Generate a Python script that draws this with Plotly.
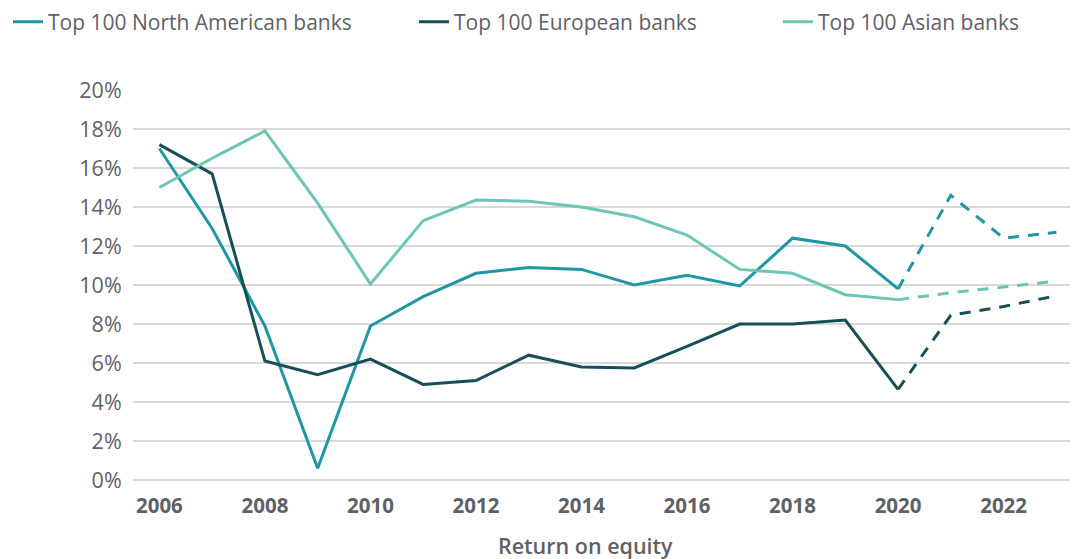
import plotly.graph_objects as go

years = list(range(2006, 2024))
north_america = [17.0, 12.9, 7.9, 0.6, 7.9, 9.4, 10.6, 10.9, 10.8, 10.0, 10.5, 9.95, 12.4, 12.0, 9.8, 14.6, 12.4, 12.7]
europe = [17.2, 15.7, 6.1, 5.4, 6.2, 4.9, 5.1, 6.4, 5.8, 5.75, 6.85, 8.0, 8.0, 8.2, 4.65, 8.45, 8.9, 9.45]
asia = [15.0, 16.5, 17.9, 14.2, 10.05, 13.3, 14.36, 14.3, 14.0, 13.5, 12.56, 10.8, 10.6, 9.5, 9.25, 9.6, 9.9, 10.2]
names = ["Top 100 North American banks", "Top 100 European banks", "Top 100 Asian banks"]
colors = ["#2196a3", "#174f57", "#6cc5b5"]
last_actual = 2020
tick_years = list(range(2006, 2024, 2))
x_title = "Return on equity"

W, H = 1070, 551
text_color = "#5f6166"

fig = go.Figure()
legends = ["legend", "legend2", "legend3"]
for i, (name, vals, col) in enumerate(zip(names, [north_america, europe, asia], colors)):
    idx = years.index(last_actual)
    fig.add_trace(go.Scatter(x=years[:idx + 1], y=vals[:idx + 1], mode="lines", name=name,
                             line=dict(color=col, width=3), legend=legends[i]))
    fig.add_trace(go.Scatter(x=years[idx:], y=vals[idx:], mode="lines", name=name, showlegend=False,
                             line=dict(color=col, width=3, dash="11px,9px"), legend=legends[i]))

legend_font = dict(family="Open Sans", size=21, color=text_color)
lx = [0.0, 406 / W, 770 / W]
for key, x in zip(legends, lx):
    fig.update_layout({key: dict(x=x, y=1 - 14 / H, xref="container", yref="container", xanchor="left",
                                 yanchor="middle", orientation="h", font=legend_font,
                                 bgcolor="rgba(0,0,0,0)", itemwidth=30, tracegroupgap=0)})

fig.add_annotation(text=x_title, xref="paper", yref="paper", x=(577 - 125) / 945, y=0,
                   xanchor="center", yanchor="middle", yshift=-65, showarrow=False,
                   font=dict(family="Open Sans", size=21.5, color=text_color, weight=600))

fig.update_layout(
    width=W, height=H,
    margin=dict(l=125, r=0, t=82, b=79, autoexpand=False),
    plot_bgcolor="white", paper_bgcolor="white",
    font=dict(family="Open Sans", color=text_color),
    xaxis=dict(range=[2005.5, 2023.41], tickvals=tick_years, ticktext=[str(y) for y in tick_years],
               showgrid=False, zeroline=False, showline=False,
               tickfont=dict(family="Open Sans", size=20.5, color=text_color, weight="bold"),
               ticks="outside", ticklen=0, ticklabelstandoff=7),
    yaxis=dict(range=[0, 20], dtick=2, ticksuffix="%", showgrid=True, gridcolor="#d9d9d9", gridwidth=1.5,
               zeroline=True, zerolinecolor="#d9d9d9", zerolinewidth=2, showline=False,
               tickfont=dict(family="Open Sans", size=21.5, color=text_color),
               ticks="outside", ticklen=0, ticklabelstandoff=6),
)

fig.write_html("out.html")
